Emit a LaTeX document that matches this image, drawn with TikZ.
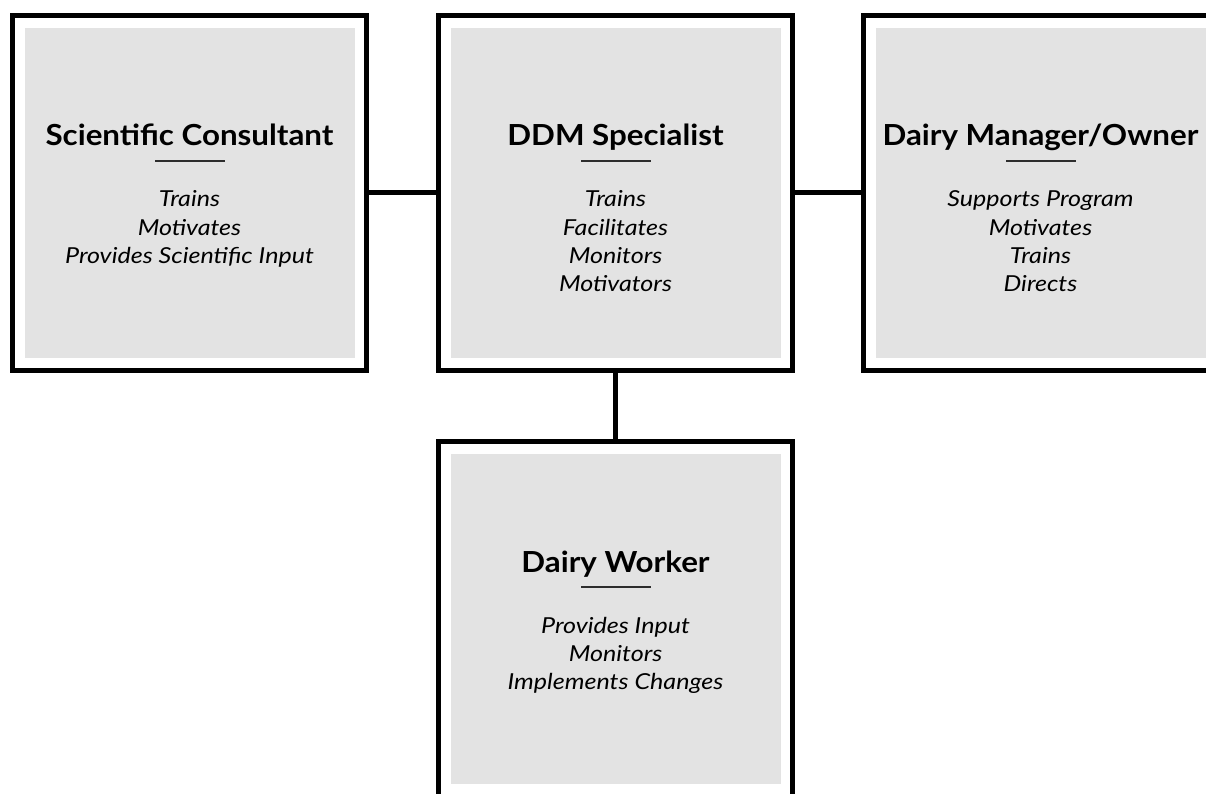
\documentclass[tikz,border=0pt]{standalone}
\usepackage{fontspec}
\setmainfont{Lato}
\newfontfamily\titlefont{Lato}[FakeStretch=1.08]
\newfontfamily\itemfont{Lato}[FakeStretch=1.14]
\usetikzlibrary{positioning}
\definecolor{panelgrey}{RGB}{227,227,227}
\definecolor{rulegrey}{RGB}{45,45,45}
\tikzset{
  frame/.style={draw, line width=5pt, minimum width=354pt, minimum height=355pt,
    inner sep=0pt, outer sep=0pt},
  panel/.style={fill=panelgrey, minimum size=330pt, inner sep=0pt},
  title/.style={font=\titlefont\bfseries\fontsize{29}{34}\selectfont, anchor=base, inner sep=0pt},
  rule/.style={fill=rulegrey, minimum width=70pt, minimum height=1.4pt, inner sep=0pt},
  item/.style={font=\itemfont\itshape\fontsize{22}{28}\selectfont, anchor=base, inner sep=0pt},
  link/.style={line width=5pt}
}
\begin{document}
\begin{tikzpicture}
  \clip (0,0) rectangle (1206pt,793pt);

  \node[frame] (ddm) at (615.5pt,600pt) {};
  \node[frame, left=72pt of ddm] (sci) {};
  \node[frame, right=71pt of ddm] (own) {};
  \node[frame, below=71pt of ddm] (wrk) {};

  \foreach \Box in {sci,ddm,own,wrk} {
    \node[panel] (\Box-p) at (\Box) {};
    \node[rule] (\Box-r) at ([yshift=32pt]\Box.center) {};
  }

  % titles
  \node[title] (sci-t) at ([yshift=47pt]sci.center) {Scientific Consultant};
  \node[title] (ddm-t) at ([yshift=47pt]ddm.center) {DDM Specialist};
  \node[title] (own-t) at ([yshift=47pt]own.center) {Dairy Manager/Owner};
  \node[title] (wrk-t) at ([yshift=47pt]wrk.center) {Dairy Worker};

  % duties
  \foreach \Txt [count=\i] in {Trains,Motivates,Provides Scientific Input}
    \node[item] (sci-\i) at ([yshift={-14-(\i-1)*28.3}]sci.center) {\Txt};
  \foreach \Txt [count=\i] in {Trains,Facilitates,Monitors,Motivators}
    \node[item] (ddm-\i) at ([yshift={-14-(\i-1)*28.3}]ddm.center) {\Txt};
  \foreach \Txt [count=\i] in {Supports Program,Motivates,Trains,Directs}
    \node[item] (own-\i) at ([yshift={-14-(\i-1)*28.3}]own.center) {\Txt};
  \foreach \Txt [count=\i] in {Provides Input,Monitors,Implements Changes}
    \node[item] (wrk-\i) at ([yshift={-14-(\i-1)*28.3}]wrk.center) {\Txt};

  \draw[link] (sci) -- (ddm);
  \draw[link] (ddm) -- (own);
  \draw[link] (ddm) -- (wrk);
\end{tikzpicture}
\end{document}
